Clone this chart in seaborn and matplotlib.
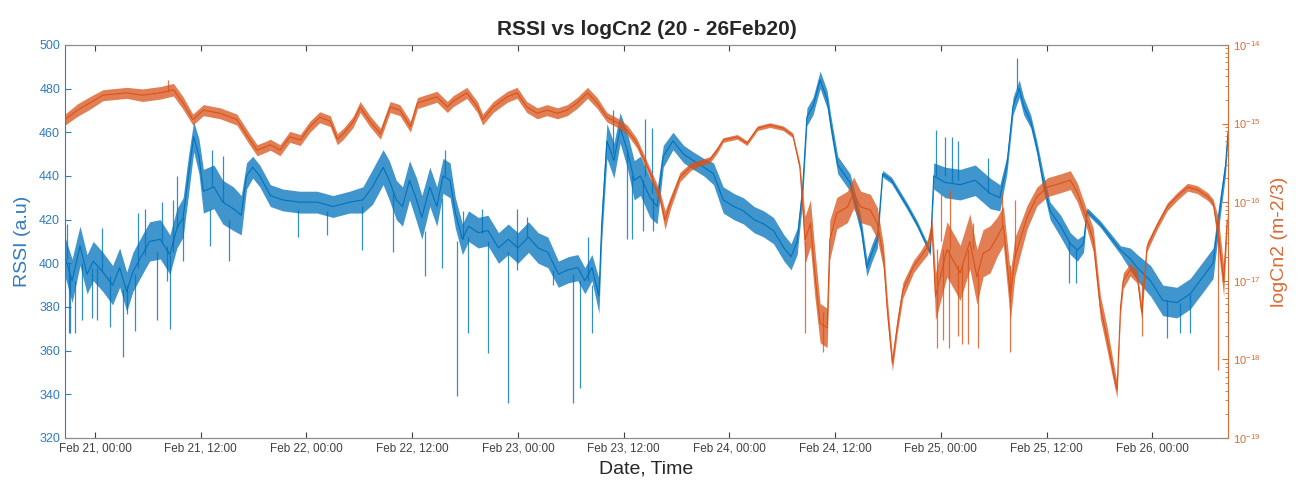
#!/usr/bin/env python3
# RSSI vs logCn2, 20 - 26 Feb 2020 (dual axis)

import numpy as np
import pandas as pd
import matplotlib
matplotlib.use("Agg")
import matplotlib.pyplot as plt
import matplotlib.dates as mdates
from matplotlib.ticker import FixedLocator, LogFormatterSciNotation, NullFormatter
import seaborn as sns

START = pd.Timestamp("2020-02-21 00:00")
X_FROM, X_TO = -3.4, 128.6   # hours relative to START

# RSSI: hours from Feb 21 00:00, centre of the noisy trace, half-width of the noise band
rssi_h = [-3.4, -2.6, -1.7, -0.9, -0.2, 0.9, 2.0, 2.8, 3.6, 4.3,
          5.1, 6.2, 7.4, 8.5, 9.3, 10.0, 10.6, 11.2, 11.8, 12.3,
          13.5, 14.5, 15.7, 16.6, 17.2, 17.9, 18.7, 19.9, 21.3, 23.2,
          25.2, 27.0, 28.9, 30.4, 31.5, 32.7, 33.4, 34.2, 34.9, 35.7,
          36.5, 37.1, 38.0, 38.8, 39.5, 40.3, 40.9, 41.7, 42.4, 43.5,
          44.6, 45.8, 46.9, 48.0, 49.2, 50.3, 51.4, 52.6, 53.7, 54.8,
          55.6, 56.4, 57.2, 57.5, 58.1, 58.9, 59.6, 60.4, 61.2, 61.9,
          63.0, 63.8, 64.5, 65.6, 66.8, 67.9, 69.1, 70.2, 71.3, 72.5,
          73.6, 74.8, 75.9, 77.0, 78.2, 79.0, 79.7, 80.3, 80.8, 81.5,
          82.3, 83.1, 83.5, 84.3, 85.7, 86.9, 87.6, 88.2, 88.8, 89.4,
          90.4, 92.2, 93.3, 94.8, 95.2, 96.5, 98.2, 99.9, 101.6, 102.7,
          103.5, 104.2, 104.9, 105.4, 106.2, 106.9, 107.6, 108.4, 109.6, 110.7,
          111.5, 112.2, 112.6, 114.1, 116.4, 117.5, 118.3, 119.8, 121.2, 122.8,
          124.3, 125.8, 126.9, 127.7, 128.3, 128.6]
rssi_v = [403, 392, 408, 395, 401, 396, 390, 398, 387, 396,
          402, 410, 411, 404, 416, 421, 440, 458, 449, 433,
          435, 428, 425, 422, 440, 444, 440, 431, 429, 428,
          428, 426, 428, 429, 435, 444, 438, 429, 426, 438,
          429, 421, 435, 426, 440, 438, 423, 411, 417, 414,
          415, 407, 411, 407, 412, 407, 405, 395, 397, 398,
          392, 398, 385, 417, 456, 447, 462, 452, 438, 440,
          430, 426, 449, 456, 450, 447, 444, 441, 429, 426,
          424, 420, 418, 415, 407, 403, 410, 433, 467, 472,
          484, 475, 464, 445, 437, 418, 398, 405, 411, 441,
          438, 426, 418, 405, 440, 437, 436, 438, 432, 430,
          445, 472, 480, 472, 465, 453, 438, 424, 417, 409,
          406, 409, 424, 418, 406, 402, 398, 392, 383, 382,
          386, 394, 400, 426, 444, 460]
rssi_s = [9, 10, 9, 9, 9, 9, 9, 9, 9, 9,
          9, 9, 9, 9, 9, 9, 9, 7, 8, 10,
          10, 10, 10, 9, 6, 5, 5, 5, 5, 5,
          5, 5, 5, 6, 8, 8, 9, 9, 9, 9,
          10, 10, 9, 9, 8, 8, 7, 7, 7, 7,
          7, 7, 7, 7, 7, 7, 7, 6, 6, 6,
          6, 6, 8, 8, 8, 8, 7, 8, 9, 9,
          9, 8, 5, 4, 4, 4, 4, 5, 6, 6,
          6, 6, 6, 6, 6, 6, 6, 5, 4, 4,
          4, 4, 4, 4, 4, 4, 4, 4, 4, 1.5,
          1.5, 1.5, 1.5, 1.5, 6, 7, 7, 7, 7, 6,
          4, 4, 4, 4, 3, 3, 4, 4, 5, 5,
          5, 4, 1.5, 1.5, 2, 5, 6, 7, 7, 7,
          7, 7, 7, 5, 4, 3]

# single-sample dropouts / bursts in RSSI: hour, band value, tip value
rssi_spike_h = [-3.2, -3.0, -2.8, -2.3, -1.5, -0.3, 0.2, 0.8, 1.7, 3.2,
                3.6, 4.5, 4.9, 5.7, 7.0, 7.6, 8.2, 8.5, 8.9, 9.3,
                10.0, 13.1, 13.3, 14.5, 15.2, 23.0, 26.3, 30.3, 33.8, 37.5,
                39.4, 39.7, 41.1, 41.8, 42.3, 43.9, 44.6, 46.9, 47.9, 47.9,
                49.0, 52.0, 54.2, 55.1, 55.9, 56.4, 58.8, 60.4, 61.0, 62.2,
                62.4, 63.2, 63.3, 95.4, 96.5, 97.3, 98.0, 101.3, 104.7, 110.5,
                111.3, 121.7, 123.2, 124.3]
rssi_spike_from = [402, 400, 395, 392, 400, 398, 398, 397, 394, 388,
                   390, 395, 398, 404, 405, 410, 408, 404, 405, 416,
                   421, 425, 435, 428, 420, 425, 424, 426, 432, 415,
                   430, 440, 410, 411, 412, 414, 410, 405, 407, 407,
                   412, 397, 395, 392, 392, 390, 450, 452, 440, 438,
                   440, 432, 430, 440, 440, 437, 438, 432, 480, 410,
                   406, 383, 382, 386]
rssi_spike_to = [418, 368, 368, 368, 374, 375, 374, 416, 371, 357,
                 377, 369, 423, 425, 374, 428, 392, 370, 429, 440,
                 401, 408, 452, 449, 401, 412, 413, 406, 405, 394,
                 398, 452, 339, 424, 368, 425, 359, 336, 425, 397,
                 421, 390, 336, 343, 412, 368, 470, 411, 411, 415,
                 466, 462, 415, 461, 458, 458, 456, 448, 494, 391,
                 391, 366, 368, 368]

# Cn2: hours, log10(Cn2) centre, half-width of the noise band in decades
cn2_h = [-3.4, -2.0, -0.6, 0.9, 3.6, 5.4, 7.4, 8.9, 10.0, 11.1,
         12.3, 14.2, 16.1, 17.6, 18.4, 19.3, 19.9, 21.0, 22.1, 23.3,
         24.4, 25.5, 26.7, 27.5, 28.2, 29.3, 30.1, 31.2, 32.4, 33.5,
         34.6, 35.8, 36.6, 37.7, 38.8, 40.0, 40.6, 42.2, 43.4, 44.0,
         45.2, 46.8, 47.9, 49.0, 50.2, 51.3, 52.5, 53.6, 54.7, 55.9,
         57.0, 58.1, 59.3, 60.4, 61.5, 63.0, 64.1, 64.7, 65.3, 66.4,
         67.6, 68.7, 69.8, 70.6, 71.3, 72.9, 74.0, 75.2, 76.6, 78.1,
         79.2, 80.0, 80.6, 81.2, 81.7, 82.3, 83.1, 83.4, 84.2, 85.4,
         86.1, 86.9, 88.0, 88.8, 89.5, 89.9, 90.5, 91.1, 91.7, 92.9,
         93.7, 94.5, 95.0, 95.4, 96.7, 98.2, 99.3, 100.1, 100.8, 101.6,
         102.4, 103.1, 103.9, 104.4, 105.0, 105.8, 106.9, 108.1, 109.6, 110.7,
         111.5, 112.6, 113.3, 114.1, 114.9, 115.6, 116.0, 116.4, 116.7, 117.5,
         118.3, 118.8, 119.4, 120.5, 121.7, 122.8, 124.0, 125.1, 126.3, 126.9,
         127.5, 128.1, 128.5]
cn2_log = [-14.95, -14.83, -14.74, -14.64, -14.61, -14.64, -14.61, -14.57, -14.74, -14.95,
           -14.83, -14.87, -14.95, -15.21, -15.34, -15.30, -15.27, -15.34, -15.17, -15.21,
           -15.04, -14.92, -14.97, -15.20, -15.13, -14.98, -14.79, -14.97, -15.13, -14.79,
           -14.83, -15.04, -14.74, -14.70, -14.66, -14.79, -14.72, -14.61, -14.79, -14.95,
           -14.79, -14.66, -14.61, -14.79, -14.87, -14.83, -14.87, -14.83, -14.74, -14.61,
           -14.74, -14.92, -14.99, -15.08, -15.25, -15.63, -15.93, -16.23, -16.01, -15.68,
           -15.55, -15.50, -15.46, -15.34, -15.21, -15.17, -15.25, -15.06, -15.02, -15.06,
           -15.15, -15.55, -16.48, -16.27, -16.90, -17.54, -17.60, -16.48, -16.14, -16.06,
           -15.88, -16.06, -16.10, -16.27, -16.70, -17.33, -18.05, -17.54, -17.12, -16.82,
           -16.70, -16.57, -16.32, -17.20, -16.60, -16.90, -16.50, -16.95, -16.65, -16.60,
           -16.44, -16.30, -17.20, -16.70, -16.48, -16.19, -15.93, -15.81, -15.76, -15.72,
           -15.88, -16.23, -16.48, -17.33, -17.75, -18.17, -18.39, -17.33, -17.00, -16.86,
           -16.95, -17.40, -16.57, -16.31, -16.06, -15.93, -15.81, -15.84, -15.93, -16.01,
           -16.40, -17.00, -16.23]
cn2_s = [0.07, 0.08, 0.08, 0.07, 0.07, 0.08, 0.08, 0.08, 0.08, 0.07,
         0.07, 0.07, 0.07, 0.07, 0.07, 0.07, 0.07, 0.07, 0.07, 0.07,
         0.07, 0.07, 0.07, 0.07, 0.07, 0.07, 0.07, 0.07, 0.07, 0.07,
         0.07, 0.07, 0.07, 0.07, 0.07, 0.07, 0.07, 0.07, 0.07, 0.07,
         0.07, 0.07, 0.07, 0.07, 0.07, 0.07, 0.07, 0.07, 0.07, 0.07,
         0.07, 0.06, 0.06, 0.06, 0.06, 0.06, 0.08, 0.12, 0.08, 0.06,
         0.05, 0.04, 0.04, 0.04, 0.03, 0.03, 0.03, 0.03, 0.03, 0.03,
         0.03, 0.05, 0.30, 0.30, 0.30, 0.25, 0.25, 0.25, 0.20, 0.20,
         0.20, 0.20, 0.20, 0.20, 0.15, 0.15, 0.10, 0.10, 0.10, 0.08,
         0.08, 0.10, 0.10, 0.30, 0.35, 0.35, 0.35, 0.35, 0.30, 0.30,
         0.25, 0.25, 0.30, 0.25, 0.20, 0.15, 0.12, 0.12, 0.12, 0.12,
         0.12, 0.12, 0.15, 0.15, 0.15, 0.12, 0.10, 0.10, 0.10, 0.08,
         0.08, 0.10, 0.06, 0.05, 0.05, 0.05, 0.05, 0.05, 0.05, 0.05,
         0.20, 0.20, 0.10]

# spikes in Cn2 (log10): hour, band value, tip value
cn2_spike_h = [8.3, 80.6, 82.6, 95.6, 96.0, 96.2, 96.9, 97.1, 98.0, 98.4,
               99.1, 99.6, 100.2, 102.9, 103.9, 104.4, 118.8, 127.5]
cn2_spike_from = [-14.60, -16.5, -17.4, -16.6, -16.5, -16.6, -16.6, -16.6, -16.8, -16.8,
                  -16.6, -16.6, -16.9, -16.3, -16.8, -16.7, -17.0, -16.3]
cn2_spike_to = [-14.45, -17.66, -17.9, -17.85, -15.9, -17.75, -17.85, -15.84, -17.7, -17.8,
                -17.8, -16.27, -17.85, -15.9, -17.9, -15.97, -17.7, -18.13]

assert len(rssi_h) == len(rssi_v) == len(rssi_s)
assert len(rssi_spike_h) == len(rssi_spike_from) == len(rssi_spike_to)
assert len(cn2_h) == len(cn2_log) == len(cn2_s)
assert len(cn2_spike_h) == len(cn2_spike_from) == len(cn2_spike_to)

BLUE = "#0072BD"
ORANGE = "#D95319"
BLUE_TXT = "#2F7BBF"
ORANGE_TXT = "#DC6A35"
FRAME_GREY = "#8C8C8C"


def hours(h):
    return START + pd.to_timedelta(np.asarray(h, dtype=float), unit="h")


def main():
    sns.set_style("white")
    plt.rcParams["font.family"] = ["Liberation Sans", "DejaVu Sans"]

    rssi = pd.DataFrame({"time": hours(rssi_h), "rssi": rssi_v, "spread": rssi_s})
    cn2 = pd.DataFrame({"time": hours(cn2_h), "log": cn2_log, "spread": cn2_s})
    cn2["cn2"] = 10.0 ** cn2["log"]

    fig, ax = plt.subplots(figsize=(13.06, 4.88), dpi=100)
    fig.subplots_adjust(left=0.0498, right=0.9403, bottom=0.1025, top=0.908)
    ax2 = ax.twinx()

    # RSSI (left axis)
    ax.fill_between(rssi["time"], rssi["rssi"] - rssi["spread"], rssi["rssi"] + rssi["spread"],
                    color=BLUE, alpha=0.75, lw=0)
    ax.vlines(hours(rssi_spike_h), rssi_spike_from, rssi_spike_to, color=BLUE, lw=0.9, alpha=0.8)
    sns.lineplot(data=rssi, x="time", y="rssi", ax=ax, color=BLUE, lw=0.8)

    # Cn2 (right axis, log)
    ax2.set_yscale("log")
    ax2.fill_between(cn2["time"], 10.0 ** (cn2["log"] - cn2["spread"]),
                     10.0 ** (cn2["log"] + cn2["spread"]), color=ORANGE, alpha=0.75, lw=0)
    ax2.vlines(hours(cn2_spike_h), 10.0 ** np.array(cn2_spike_from), 10.0 ** np.array(cn2_spike_to),
               color=ORANGE, lw=0.9, alpha=0.8)
    sns.lineplot(data=cn2, x="time", y="cn2", ax=ax2, color=ORANGE, lw=0.8)

    # x axis
    ax.set_xlim(hours([X_FROM])[0], hours([X_TO])[0])
    ax.xaxis.set_major_locator(mdates.HourLocator(byhour=[0, 12]))
    ax.xaxis.set_major_formatter(mdates.DateFormatter("%b %d, %H:%M"))
    ax.set_xlabel("Date, Time", fontsize=14, color="#262626", labelpad=4)

    # left axis
    ax.set_ylim(320, 500)
    ax.set_yticks(np.arange(320, 501, 20))
    ax.set_ylabel("RSSI (a.u)", fontsize=14, color=BLUE_TXT, labelpad=6)
    ax.tick_params(axis="y", colors=BLUE_TXT, labelsize=9, direction="in", length=4)
    ax.tick_params(axis="x", colors="#404040", labelsize=8.5, direction="in", length=4,
                   top=True, bottom=True)

    # right axis: decades only, minor ticks 2..9 inside
    ax2.set_ylim(1e-19, 1e-14)
    decades = [10.0 ** e for e in range(-19, -13)]
    minors = [m * 10.0 ** e for e in range(-19, -14) for m in range(2, 10)]
    ax2.yaxis.set_major_locator(FixedLocator(decades))
    ax2.yaxis.set_major_formatter(LogFormatterSciNotation())
    ax2.yaxis.set_minor_locator(FixedLocator(minors))
    ax2.yaxis.set_minor_formatter(NullFormatter())
    ax2.set_ylabel("logCn2 (m-2/3)", fontsize=14, color=ORANGE_TXT, labelpad=8)
    ax2.tick_params(axis="y", which="major", colors=ORANGE_TXT, labelsize=8, direction="in", length=4)
    ax2.tick_params(axis="y", which="minor", colors=ORANGE_TXT, direction="in", length=2)

    for spine in ("top", "bottom"):
        ax.spines[spine].set_color(FRAME_GREY)
        ax2.spines[spine].set_color(FRAME_GREY)
    ax.spines["left"].set_color(BLUE_TXT)
    ax2.spines["left"].set_visible(False)
    ax.spines["right"].set_visible(False)
    ax2.spines["right"].set_color(ORANGE_TXT)

    ax.set_title("RSSI vs logCn2 (20 - 26Feb20)", fontsize=15, fontweight="bold", pad=7)

    fig.savefig("out.png", dpi=100)


if __name__ == "__main__":
    main()
